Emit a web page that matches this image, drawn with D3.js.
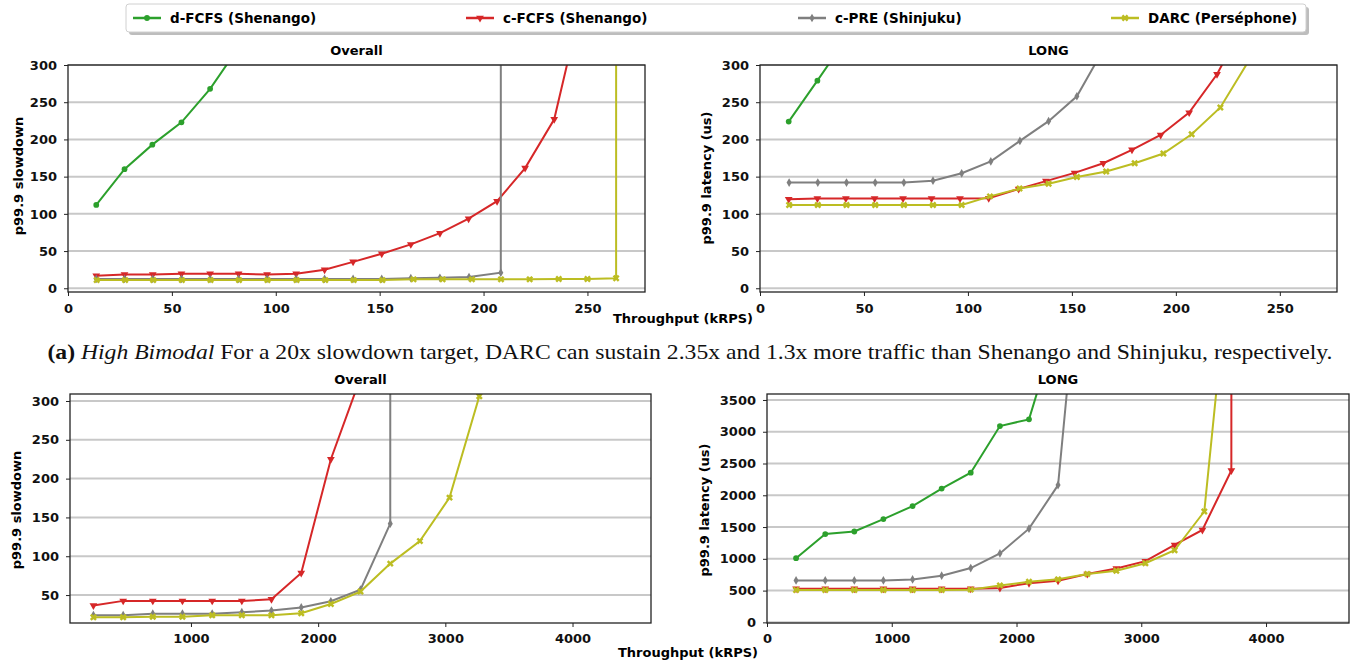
<!DOCTYPE html>
<html>
<head>
<meta charset="utf-8">
<script src="https://cdn.jsdelivr.net/npm/d3@7"></script>
<style>
  body { margin: 0; background: #fff; }
  text { font-family: "DejaVu Sans", sans-serif; }
</style>
</head>
<body>
<svg id="chart" width="1351" height="660"></svg>
<script>
// series names + colours (matplotlib tab10)
const seriesNames = ["d-FCFS (Shenango)", "c-FCFS (Shenango)", "c-PRE (Shinjuku)", "DARC (Perséphone)"];
const seriesColors = ["#2ca02c", "#d62728", "#7f7f7f", "#bcbd22"];

// (a) High Bimodal - Overall p99.9 slowdown  [throughput kRPS, value]
const hbOverallDFCFS = [[13.6,112],[27.2,160],[40.6,193],[54.6,223],[68.4,268],[82.2,324]];
const hbOverallCFCFS = [[13.6,17],[27.2,18.5],[40.8,18.5],[54.6,19.5],[68.4,19.5],[82.1,19.5],[95.8,18.5],[109.8,19.5],[123.5,25],[137.2,35.5],[151,46.5],[165,59],[179,74],[192.8,93.5],[206.5,117],[220,161.5],[234,227],[247.7,390]];
const hbOverallCPRE = [[13.6,12.5],[27.2,12.5],[40.8,12.5],[54.6,12.5],[68.4,12.5],[82.1,12.5],[95.8,12.5],[109.8,12.5],[123.5,12.5],[137.2,12.5],[151,12.5],[165,13.5],[179,14],[193,15],[208.3,21],[208.4,5000]];
const hbOverallDARC = [[13.8,11],[27.5,11],[41,11],[54.8,11],[68.6,11],[82.3,11],[96,11],[110,11],[123.8,11],[137.5,11],[151.3,11],[166.3,12],[180.3,12],[194.4,12],[208.4,12],[222.2,12],[236.2,12.5],[250,12.5],[263.8,13.5],[263.9,5000]];

// (a) High Bimodal - LONG p99.9 latency (us)
const hbLongDFCFS = [[13.8,224],[27.6,279],[41.4,335]];
const hbLongCFCFS = [[13.8,119.5],[27.6,120.5],[41.3,120.5],[55.1,120.5],[68.8,120.5],[82.5,120.5],[96.2,120.5],[110,121],[124.4,133.5],[137.5,144],[151.3,155],[165.1,168],[178.9,186],[192.7,206],[206.4,236],[219.8,287.5],[233.5,360]];
const hbLongCPRE = [[14,142],[27.8,142],[41.6,142],[55.4,142],[69.2,142],[83.2,144.5],[97,154.5],[111,170.5],[125,198],[138.8,224.5],[152.4,258],[166,325]];
const hbLongDARC = [[14,112],[27.8,112],[41.6,112],[55.4,112],[69.2,112],[83.2,112],[97,112],[110.6,123.5],[124.8,134],[138.8,140.5],[152.4,149.5],[166.5,157],[180.2,168],[194,181],[207.6,207],[221.4,243],[236,310]];

// second workload - Overall p99.9 slowdown
const exOverallDFCFS = [];
const exOverallCFCFS = [[233,36.5],[467,42.5],[700,42.5],[933,42.5],[1167,42.5],[1400,42.5],[1633,44.5],[1867,78.5],[2100,225],[2333,330]];
const exOverallCPRE = [[233,24],[467,24],[700,26],[933,26],[1167,26],[1400,28],[1633,30],[1867,34],[2100,42],[2333,57],[2567,142],[2568,5000]];
const exOverallDARC = [[233,21.5],[467,21.5],[700,22],[933,22],[1167,24],[1400,24],[1633,24],[1867,26.5],[2100,38.5],[2333,54.5],[2567,90.5],[2800,119.5],[3033,175.5],[3267,306],[3500,700]];

// second workload - LONG p99.9 latency (us)
const exLongDFCFS = [[233,1010],[467,1390],[700,1430],[933,1625],[1167,1830],[1400,2105],[1633,2355],[1867,3090],[2100,3195],[2333,4700]];
const exLongCFCFS = [[233,530],[467,530],[700,530],[933,530],[1167,530],[1400,530],[1633,530],[1867,542],[2100,617],[2333,654],[2567,760],[2800,848],[3033,963],[3267,1219],[3490,1455],[3722,2391],[3723,9000]];
const exLongCPRE = [[233,660],[467,660],[700,660],[933,660],[1167,675],[1400,735],[1633,855],[1867,1085],[2100,1475],[2333,2160],[2567,7000]];
const exLongDARC = [[233,510],[467,510],[700,510],[933,510],[1167,510],[1400,510],[1633,515],[1867,582],[2100,638],[2333,677],[2567,760],[2800,811],[3033,931],[3267,1135],[3505,1745],[3733,6200]];

// tick values
const xTicksTop = [0, 50, 100, 150, 200, 250];
const yTicksTop = [0, 50, 100, 150, 200, 250, 300];
const xTicksBottomLeft = [1000, 2000, 3000, 4000];
const yTicksBottomLeft = [50, 100, 150, 200, 250, 300];
const xTicksBottomRight = [0, 1000, 2000, 3000, 4000];
const yTicksBottomRight = [0, 500, 1000, 1500, 2000, 2500, 3000, 3500];

const svg = d3.select("#chart");

const markerTypes = [d3.symbolCircle, d3.symbolTriangle, d3.symbolDiamond, d3.symbolCross];
const markerSizes = [26, 26, 22, 30];
const markerRot = [0, 180, 0, 45];

const panels = [
    {id: "p1", title: "Overall", yLabel: "p99.9 slowdown", left: 68, right: 645, top: 65, bottom: 292, xPad: 8,
     xDomain: [0, 277.7], yDomain: [-5, 300], xTicks: xTicksTop, yTicks: yTicksTop, labelX: 18, labelY: 176,
     data: [hbOverallDFCFS, hbOverallCFCFS, hbOverallCPRE, hbOverallDARC]},
    {id: "p2", title: "LONG", yLabel: "p99.9 latency (us)", left: 760, right: 1337, top: 65, bottom: 292, xPad: 8,
     xDomain: [0, 277.5], yDomain: [-5, 300], xTicks: xTicksTop, yTicks: yTicksTop, labelX: 706, labelY: 178,
     data: [hbLongDFCFS, hbLongCFCFS, hbLongCPRE, hbLongDARC]},
    {id: "p3", title: "Overall", yLabel: "p99.9 slowdown", left: 70, right: 651, top: 394, bottom: 623, xPad: 7,
     xDomain: [49, 4617], yDomain: [14, 309], xTicks: xTicksBottomLeft, yTicks: yTicksBottomLeft, labelX: 16, labelY: 510,
     data: [exOverallDFCFS, exOverallCFCFS, exOverallCPRE, exOverallDARC]},
    {id: "p4", title: "LONG", yLabel: "p99.9 latency (us)", left: 767, right: 1349, top: 394, bottom: 623, xPad: 7,
     xDomain: [0, 4665], yDomain: [-10, 3594], xTicks: xTicksBottomRight, yTicks: yTicksBottomRight, labelX: 704, labelY: 510,
     data: [exLongDFCFS, exLongCFCFS, exLongCPRE, exLongDARC]}
];

panels.forEach(p => {
    const x = d3.scaleLinear().domain(p.xDomain).range([p.left, p.right]);
    const y = d3.scaleLinear().domain(p.yDomain).range([p.bottom, p.top]);

    svg.append("clipPath").attr("id", "clip-" + p.id)
        .append("rect").attr("x", p.left).attr("y", p.top)
        .attr("width", p.right - p.left).attr("height", p.bottom - p.top);

    // horizontal grid
    svg.append("g").selectAll("line").data(p.yTicks).join("line")
        .attr("x1", p.left).attr("x2", p.right)
        .attr("y1", d => y(d)).attr("y2", d => y(d))
        .attr("stroke", "#c8c8c8").attr("stroke-width", 2);

    const g = svg.append("g").attr("clip-path", `url(#clip-${p.id})`);
    const line = d3.line().x(d => x(d[0])).y(d => y(d[1]));

    p.data.forEach((s, i) => {
        g.append("path").datum(s)
            .attr("d", line)
            .attr("fill", "none")
            .attr("stroke", seriesColors[i])
            .attr("stroke-width", 2);
        g.selectAll(null).data(s.filter(d => d[1] <= p.yDomain[1])).join("path")
            .attr("transform", d => `translate(${x(d[0])},${y(d[1])}) rotate(${markerRot[i]})`)
            .attr("d", d3.symbol().type(markerTypes[i]).size(markerSizes[i]))
            .attr("fill", seriesColors[i]);
    });

    // frame
    svg.append("rect").attr("x", p.left).attr("y", p.top)
        .attr("width", p.right - p.left).attr("height", p.bottom - p.top)
        .attr("fill", "none").attr("stroke", "#222").attr("stroke-width", 1.3);

    const xa = svg.append("g").attr("transform", `translate(0,${p.bottom})`)
        .call(d3.axisBottom(x).tickValues(p.xTicks).tickSize(4).tickPadding(p.xPad).tickFormat(d3.format("d")));
    const ya = svg.append("g").attr("transform", `translate(${p.left},0)`)
        .call(d3.axisLeft(y).tickValues(p.yTicks).tickSize(4).tickPadding(7).tickFormat(d3.format("d")));
    [xa, ya].forEach(a => {
        a.select(".domain").remove();
        a.selectAll("text").style("font-size", "13px").style("font-weight", "bold")
            .style("font-family", "DejaVu Sans").attr("fill", "#111");
        a.selectAll("line").attr("stroke", "#222");
    });

    svg.append("text")
        .attr("x", (p.left + p.right) / 2).attr("y", p.top - 10)
        .attr("text-anchor", "middle")
        .style("font-size", "13px").style("font-weight", "bold")
        .text(p.title);

    svg.append("text")
        .attr("transform", `translate(${p.labelX},${p.labelY}) rotate(-90)`)
        .attr("text-anchor", "middle").attr("dy", "0.35em")
        .style("font-size", "13px").style("font-weight", "bold")
        .text(p.yLabel);
});

// shared x labels
[[683, 323], [688, 657]].forEach(pos => {
    svg.append("text").attr("x", pos[0]).attr("y", pos[1])
        .attr("text-anchor", "middle")
        .style("font-size", "13px").style("font-weight", "bold")
        .text("Throughput (kRPS)");
});

// caption
const cap = svg.append("text").attr("x", 690).attr("y", 359)
    .attr("text-anchor", "middle")
    .style("font-family", "'Linux Libertine', 'Liberation Serif', serif")
    .style("font-size", "21px").attr("fill", "#111");
cap.append("tspan").style("font-weight", "bold").text("(a)");
cap.append("tspan").text(" ");
cap.append("tspan").style("font-style", "italic").text("High Bimodal");
cap.append("tspan").text(" For a 20x slowdown target, DARC can sustain 2.35x and 1.3x more traffic than Shenango and Shinjuku, respectively.");
cap.attr("textLength", 1285).attr("lengthAdjust", "spacingAndGlyphs");

// legend
svg.append("rect").attr("x", 129).attr("y", 7).attr("width", 1180).attr("height", 28)
    .attr("rx", 3).attr("fill", "#bdbdbd");
svg.append("rect").attr("x", 126).attr("y", 4).attr("width", 1180).attr("height", 28)
    .attr("rx", 3).attr("fill", "#fff").attr("stroke", "#d0d0d0");

const legendX = [133, 466, 798, 1111];
seriesNames.forEach((name, i) => {
    const lg = svg.append("g").attr("transform", `translate(${legendX[i]},18)`);
    lg.append("line").attr("x1", 0).attr("x2", 28).attr("stroke", seriesColors[i]).attr("stroke-width", 2.5);
    lg.append("path").attr("transform", `translate(14,0) rotate(${markerRot[i]})`)
        .attr("d", d3.symbol().type(markerTypes[i]).size(markerSizes[i]))
        .attr("fill", seriesColors[i]);
    lg.append("text").attr("x", 37).attr("dy", "0.35em")
        .style("font-size", "13.5px").style("font-weight", "bold")
        .text(name);
});
</script>
</body>
</html>
